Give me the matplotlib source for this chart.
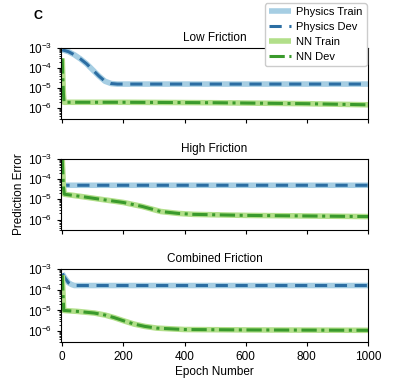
import matplotlib.pyplot as plt
import matplotlib.ticker as mticker

plt.rcParams['font.family'] = ['Liberation Sans', 'DejaVu Sans']
plt.rcParams['mathtext.fontset'] = 'custom'
plt.rcParams['mathtext.rm'] = 'Liberation Sans'

titles = ['Low Friction', 'High Friction', 'Combined Friction']

# physics model error curves (epoch, error)
phys_ep = [
    [0, 20, 40, 60, 80, 100, 120, 140, 160, 180, 1000],
    [0, 2, 5, 1000],
    [0, 10, 20, 30, 40, 60, 1000],
]
phys_err = [
    [8e-4, 6.5e-4, 4.5e-4, 2.8e-4, 1.6e-4, 8e-5, 4e-5, 2.2e-5, 1.7e-5, 1.6e-5, 1.6e-5],
    [1e-4, 6e-5, 5e-5, 5e-5],
    [6e-4, 3.5e-4, 2.2e-4, 1.8e-4, 1.6e-4, 1.6e-4, 1.6e-4],
]

# neural network error curves
nn_ep = [
    [0, 2, 4, 6, 200, 500, 800, 1000],
    [0, 2, 4, 7, 60, 127, 200, 260, 322, 380, 430, 600, 800, 1000],
    [0, 2, 5, 50, 105, 140, 170, 200, 235, 270, 310, 400, 600, 1000],
]
nn_err = [
    [3e-4, 3e-5, 5e-6, 2e-6, 2e-6, 1.9e-6, 1.7e-6, 1.5e-6],
    [1e-3, 2e-4, 4e-5, 1.8e-5, 1.4e-5, 1e-5, 7e-6, 4.5e-6, 2.5e-6, 2e-6, 1.8e-6, 1.6e-6, 1.5e-6, 1.4e-6],
    [5e-4, 1e-4, 1e-5, 9e-6, 7.5e-6, 6e-6, 4.5e-6, 3.2e-6, 2.2e-6, 1.7e-6, 1.4e-6, 1.2e-6, 1.15e-6, 1.1e-6],
]

c_pt, c_pd, c_nt, c_nd = '#a6cee3', '#2c6ea3', '#b2df8a', '#3a9a2c'

fig = plt.figure(figsize=(4, 3.86), dpi=100)
bottoms = [0.692, 0.404, 0.114]
heights = [0.184, 0.184, 0.189]
axes = []
for i in range(3):
    ax = fig.add_axes([0.1525, bottoms[i], 0.7675, heights[i]])
    axes.append(ax)
    h1, = ax.plot(phys_ep[i], phys_err[i], color=c_pt, lw=4, solid_capstyle='butt')
    h2, = ax.plot(phys_ep[i], phys_err[i], color=c_pd, lw=2.2, ls=(0, (4, 2.5)))
    h3, = ax.plot(nn_ep[i], nn_err[i], color=c_nt, lw=4, solid_capstyle='butt')
    h4, = ax.plot(nn_ep[i], nn_err[i], color=c_nd, lw=2.2, ls=(0, (5, 1.5, 1, 1.5)))
    ax.set_yscale('log')
    ax.set_ylim(3e-7, 1e-3)
    ax.set_xlim(-4, 1000)
    ax.set_yticks([1e-6, 1e-5, 1e-4, 1e-3])
    ax.yaxis.set_minor_locator(mticker.LogLocator(base=10, subs=range(2, 10), numticks=20))
    ax.yaxis.set_minor_formatter(mticker.NullFormatter())
    ax.set_xticks([0, 200, 400, 600, 800, 1000])
    ax.tick_params(labelsize=8.5, length=3, width=0.8)
    ax.tick_params(which='minor', length=1.5, width=0.6)
    ax.set_title(titles[i], fontsize=8.5, pad=5)
    for s in ax.spines.values():
        s.set_linewidth(0.8)
    if i < 2:
        ax.set_xticklabels([])

axes[2].set_xlabel('Epoch Number', fontsize=8.5, labelpad=2)
axes[1].set_ylabel('Prediction Error', fontsize=8.5, labelpad=2)

fig.legend([h1, h2, h3, h4], ['Physics Train', 'Physics Dev', 'NN Train', 'NN Dev'],
           loc='upper right', bbox_to_anchor=(0.922, 0.997), fontsize=8,
           handlelength=2.0, framealpha=1, edgecolor='#cccccc', borderpad=0.35,
           labelspacing=0.45, handletextpad=0.5, borderaxespad=0.2)

fig.text(0.085, 0.95, 'C', fontsize=9, fontweight='bold')

fig.savefig('out.png', dpi=100)
